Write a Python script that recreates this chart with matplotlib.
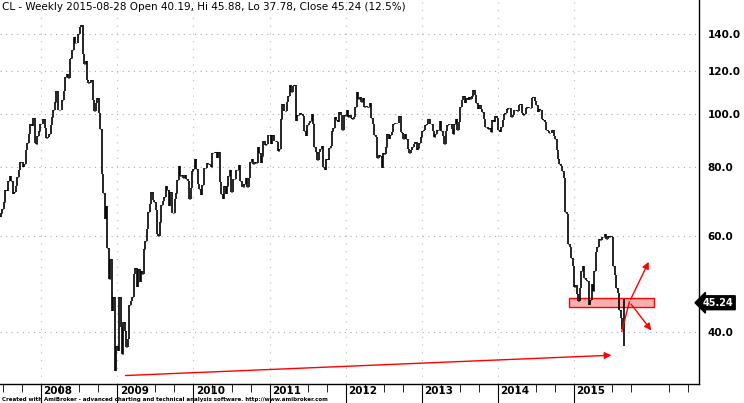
import numpy as np
import matplotlib
matplotlib.use("Agg")
import matplotlib.pyplot as plt
from matplotlib.patches import Rectangle

# weekly closes, early June 2007 .. 2015-08-28
closes = [
    65.1, 64.8, 65.9, 67.0, 69.1,
    72.8, 72.5, 75.6, 77.0, 75.5, 71.5, 72.0, 74.0, 76.7, 79.1, 81.6, 81.7, 80.0,
    81.2, 86.0, 88.6, 91.9, 95.9, 95.1, 98.2, 88.7, 88.3, 91.3, 93.3, 96.0, 96.0,
    # 2008
    97.9, 94.2, 90.6, 90.7, 91.8, 95.5, 98.8, 101.8, 105.1, 110.2, 101.8, 101.6, 101.6,
    106.2, 110.1, 116.7, 118.5, 116.3, 125.9, 126.3, 131.0, 138.5, 134.9, 134.6, 140.2, 144.3,
    145.1, 128.9, 123.3, 125.1, 115.2, 113.8, 114.6, 115.5, 106.2, 101.2, 104.6, 106.9, 100.6,
    93.9, 77.7, 71.9, 64.2, 67.8, 57.0, 50.0, 54.4, 43.7, 46.3, 33.9, 37.7, 37.0,
    # 2009
    46.3, 40.8, 36.5, 41.7, 40.2, 37.5, 38.9, 44.8, 45.5, 46.3, 51.1, 52.4, 48.4,
    52.2, 49.4, 51.6, 51.1, 56.7, 58.6, 61.7, 66.3, 68.4, 72.0, 69.6, 69.2, 66.7,
    60.4, 59.9, 63.6, 68.1, 69.5, 70.5, 73.9, 72.7, 67.9, 72.0, 66.0, 66.0, 69.9,
    71.8, 75.7, 80.5, 77.0, 77.4, 76.4, 77.5, 76.1, 75.5, 69.9, 73.4, 78.8, 79.4,
    # 2010
    82.8, 79.4, 74.5, 72.9, 71.2, 74.1, 79.8, 79.7, 81.5, 81.2, 80.7, 80.0, 84.9,
    84.9, 85.2, 83.3, 85.1, 75.1, 71.6, 70.0, 74.0, 71.5, 73.8, 77.2, 78.9, 72.1,
    76.1, 76.0, 78.9, 78.9, 80.7, 75.4, 73.5, 73.6, 74.6, 76.5, 73.6, 76.5, 81.6,
    82.7, 81.2, 81.7, 81.4, 86.9, 84.9, 81.5, 84.0, 89.2, 87.8, 88.0, 91.5, 91.4,
    # 2011
    88.0, 91.5, 89.1, 89.3, 89.0, 85.6, 86.2, 97.9, 104.4, 101.2, 101.4, 105.4, 107.9,
    112.8, 109.7, 112.3, 112.9, 97.2, 99.7, 99.5, 100.6, 100.2, 99.3, 93.0, 91.2, 95.4,
    96.2, 97.2, 99.9, 95.7, 86.9, 85.4, 82.3, 85.4, 86.5, 87.4, 79.9, 79.2, 82.9,
    82.6, 86.8, 87.4, 93.3, 94.3, 98.9, 97.7, 96.8, 100.9, 99.4, 93.5, 99.7, 99.0,
    # 2012
    101.6, 98.7, 99.6, 98.5, 97.8, 98.7, 103.2, 109.8, 106.7, 107.4, 105.0, 106.9, 103.0,
    103.3, 102.8, 103.1, 104.9, 98.5, 96.1, 91.5, 90.9, 83.2, 84.1, 84.0, 79.8, 84.9,
    84.5, 87.1, 91.8, 90.1, 91.4, 92.9, 96.0, 96.2, 96.5, 96.4, 99.0, 92.9, 92.2,
    89.9, 91.9, 90.1, 86.3, 84.9, 86.1, 86.9, 88.3, 88.9, 85.9, 86.7, 88.7, 90.8,
    # 2013
    93.1, 93.6, 95.6, 95.9, 97.8, 95.7, 95.9, 93.1, 90.7, 91.9, 93.5, 93.7, 97.2,
    93.0, 91.3, 88.0, 93.0, 95.6, 96.0, 96.0, 93.9, 91.9, 96.0, 97.8, 93.7, 96.6,
    103.2, 106.0, 108.1, 104.7, 106.9, 106.0, 107.5, 106.4, 107.7, 110.5, 108.2, 104.7, 102.3,
    103.8, 102.0, 100.8, 97.9, 94.6, 94.6, 93.8, 94.4, 92.7, 97.7, 96.6, 99.3, 98.4,
    # 2014
    93.7, 92.7, 94.6, 97.5, 99.9, 100.3, 102.2, 102.6, 102.6, 98.9, 99.5, 101.7, 101.6,
    101.1, 103.7, 104.3, 100.6, 99.8, 100.0, 102.6, 103.2, 102.7, 102.7, 106.9, 107.3, 105.7,
    104.0, 100.8, 102.1, 101.7, 97.9, 97.6, 96.6, 93.7, 93.3, 92.3, 92.4, 93.5, 91.0,
    90.0, 85.8, 82.8, 81.0, 80.5, 78.7, 76.5, 66.2, 65.8, 57.8, 57.1, 54.7, 52.7,
    # 2015
    48.4, 48.7, 46.9, 45.6, 48.2, 51.7, 52.8, 50.3, 49.8, 49.6, 44.8, 45.7, 48.9, 47.6,
    51.6, 56.0, 57.2, 59.1, 58.9, 59.7, 59.7, 60.3, 59.1, 60.0, 59.6, 59.8, 59.6,
    52.7, 50.9, 48.1, 47.1, 43.9, 42.5, 40.5, 45.24,
]
last_open, last_high, last_low = 40.19, 45.88, 37.78
last_date = np.datetime64("2015-08-28")

y_ticks = [40, 60, 80, 100, 120, 140]
years = list(range(2008, 2016))
x_min, x_max = 2007.457, 2016.645

n = len(closes)
dates = last_date - np.arange(n)[::-1] * np.timedelta64(7, "D")
x = 1970 + dates.astype("datetime64[D]").astype(float) / 365.25
c = np.array(closes)
prev = np.concatenate([[c[0]], c[:-1]])
prev[-1] = last_open
lo = np.minimum(prev, c)
hi = np.maximum(prev, c)
lo[-1], hi[-1] = last_low, last_high

fig = plt.figure(figsize=(7.44, 4.03), dpi=100)
ax = fig.add_axes([0, 19 / 403, 699 / 744, 384 / 403])
ax.set_yscale("log")

for yt in y_ticks:
    ax.axhline(yt, color="#aaaaaa", lw=0.8, ls=(0, (1, 4)), zorder=0)
for yr in years:
    ax.axvline(yr, color="#bbbbbb", lw=0.8, ls=(0, (1, 6)), zorder=0)

ax.vlines(x, lo, hi, color="black", lw=1.2)
ax.hlines(c, x, x + 0.008, color="black", lw=0.8)

# annotations
ax.annotate("", xy=(2015.53, 36.3), xytext=(2009.07, 33.3),
            arrowprops=dict(arrowstyle="-|>", color="red", lw=1, mutation_scale=10))
ax.add_patch(Rectangle((2014.93, 44.5), 1.13, 1.6, fc="#f7b0b0", ec="red", lw=1))
ax.plot([2015.63, 2015.73], [40.1, 45.4], color="red", lw=1)
ax.annotate("", xy=(2016.0, 54.3), xytext=(2015.73, 45.4),
            arrowprops=dict(arrowstyle="-|>", color="red", lw=1, mutation_scale=10))
ax.annotate("", xy=(2016.04, 39.9), xytext=(2015.73, 45.4),
            arrowprops=dict(arrowstyle="-|>", color="red", lw=1, mutation_scale=10))

for s in ["top", "left"]:
    ax.spines[s].set_visible(False)
ax.spines["right"].set_linewidth(1)
ax.spines["bottom"].set_linewidth(1)

ax.yaxis.tick_right()
ax.set_yticks(y_ticks)
ax.set_yticklabels([f"{v:.1f}" for v in y_ticks], fontsize=7.5, fontweight="bold")
ax.yaxis.set_minor_locator(matplotlib.ticker.NullLocator())
ax.tick_params(axis="y", length=0, pad=6)

minor = [yr + q for yr in range(2007, 2017) for q in (0.25, 0.5, 0.75)]
minor = [m for m in minor if x_min < m < x_max]
ax.set_xticks(years)
ax.set_xticklabels([])
ax.set_xticks(minor, minor=True)
ax.tick_params(axis="x", which="major", direction="out", length=14)
ax.tick_params(axis="x", which="minor", direction="out", length=6)
for yr in years:
    ax.text(yr + 0.03, -0.005, str(yr), transform=ax.get_xaxis_transform(),
            fontsize=7.5, fontweight="bold", ha="left", va="top")

ax.set_xlim(x_min, x_max)
ax.set_ylim(32.15, 161.5)

ax.text(1.005, 45.24, "45.24", transform=ax.get_yaxis_transform(), fontsize=7,
        fontweight="bold", color="white", va="center", ha="left",
        bbox=dict(boxstyle="larrow,pad=0.2", fc="black", ec="black"))

fig.text(0.003, 0.995, "CL - Weekly 2015-08-28 Open 40.19, Hi 45.88, Lo 37.78, Close 45.24 (12.5%)",
         fontsize=7.5, va="top", ha="left")
fig.text(0.003, 0.003, "Created with AmiBroker - advanced charting and technical analysis software. http://www.amibroker.com",
         fontsize=4, fontweight="bold", va="bottom", ha="left")

fig.savefig("out.png", dpi=100)
